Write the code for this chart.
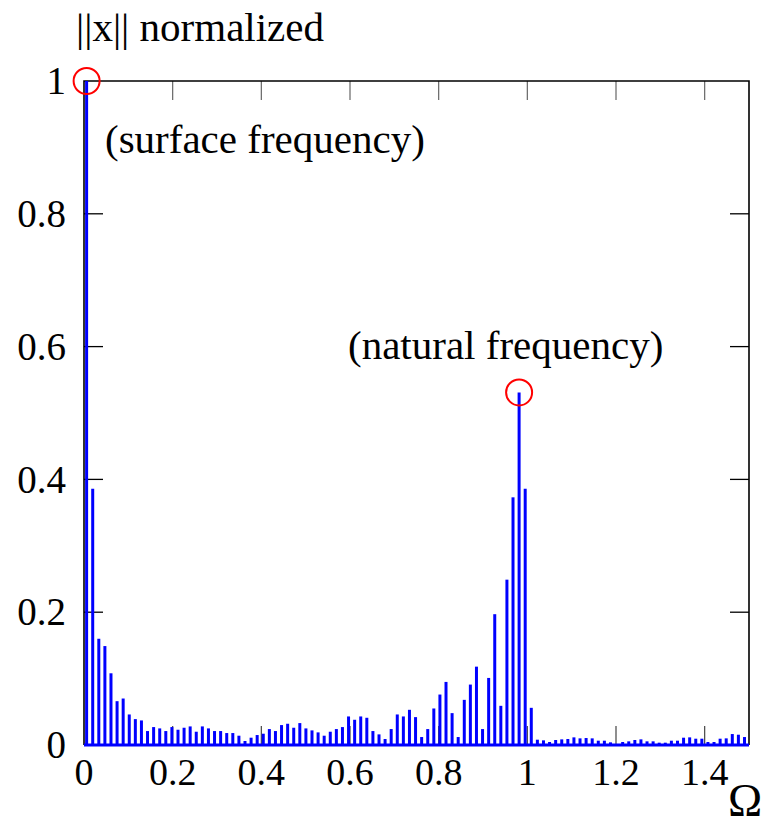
<!DOCTYPE html>
<html>
<head>
<meta charset="utf-8">
<script src="https://cdn.jsdelivr.net/npm/d3@7"></script>
<style>
  html, body { margin: 0; padding: 0; background: #fff; }
  svg { display: block; }
</style>
</head>
<body>
<div id="chart"></div>
<script>
// chart size and plot frame
const WIDTH = 768;
const HEIGHT = 828;
const MARGIN = { top: 81, right: 19, bottom: 83, left: 84 };

const BIN_START = 0.0059;
const BIN_STEP = 0.01374;

// normalized amplitude of each bin
const amplitudes = [
  1.0, 0.386, 0.160, 0.149, 0.108, 0.066, 0.070, 0.046, 0.039, 0.037,
  0.021, 0.027, 0.025, 0.021, 0.027, 0.023, 0.026, 0.028, 0.020, 0.028,
  0.025, 0.021, 0.021, 0.018, 0.018, 0.014, 0.006, 0.011, 0.015, 0.017,
  0.024, 0.021, 0.030, 0.032, 0.026, 0.033, 0.025, 0.022, 0.019, 0.014,
  0.020, 0.024, 0.027, 0.043, 0.038, 0.043, 0.041, 0.021, 0.016, 0.009,
  0.024, 0.046, 0.043, 0.053, 0.042, 0.012, 0.024, 0.055, 0.076, 0.095,
  0.048, 0.012, 0.068, 0.091, 0.118, 0.024, 0.101, 0.197, 0.059, 0.249,
  0.373, 0.531, 0.386, 0.056, 0.008, 0.007, 0.0045, 0.0075, 0.0085, 0.009,
  0.0115, 0.010, 0.0105, 0.010, 0.0065, 0.0065, 0.004, 0.001, 0.0045, 0.0055,
  0.0075, 0.0085, 0.0055, 0.0055, 0.0035, 0.0035, 0.0065, 0.0065, 0.011, 0.0115,
  0.0095, 0.0095, 0.0045, 0.0045, 0.0095, 0.010, 0.0165, 0.0155, 0.012
];

// highlighted peaks (bin index) and their captions
const peakBins = [0, 71];
const peakLabels = ["(surface frequency)", "(natural frequency)"];

// tick values and labels
const xTicks = [0, 0.2, 0.4, 0.6, 0.8, 1, 1.2, 1.4];
const yTicks = [0, 0.2, 0.4, 0.6, 0.8, 1];

const FONT = "'Liberation Serif', 'Times New Roman', serif";

const data = amplitudes.map((a, i) => ({
  omega: BIN_START + i * BIN_STEP,
  value: a,
}));

const svg = d3
  .select("#chart")
  .append("svg")
  .attr("width", WIDTH)
  .attr("height", HEIGHT);

const x = d3
  .scaleLinear()
  .domain([0, 1.5])
  .range([MARGIN.left, WIDTH - MARGIN.right]);
const y = d3
  .scaleLinear()
  .domain([0, 1])
  .range([HEIGHT - MARGIN.bottom, MARGIN.top]);

const x0 = x.range()[0], x1 = x.range()[1];
const y0 = y.range()[0], y1 = y.range()[1];

// inward ticks on all four sides
const TICK = 19;
const ticks = svg.append("g").attr("class", "ticks");
ticks
  .selectAll("line.top")
  .data(xTicks.slice(1))
  .join("line")
  .attr("x1", (d) => x(d))
  .attr("x2", (d) => x(d))
  .attr("y1", y1)
  .attr("y2", y1 + TICK)
  .attr("stroke", "#666")
  .attr("stroke-width", 1.2);
ticks
  .selectAll("line.bottom")
  .data(xTicks.slice(1))
  .join("line")
  .attr("x1", (d) => x(d))
  .attr("x2", (d) => x(d))
  .attr("y1", y0)
  .attr("y2", y0 - TICK)
  .attr("stroke", "#444")
  .attr("stroke-width", 1.2);
ticks
  .selectAll("line.left")
  .data(yTicks.slice(1, -1))
  .join("line")
  .attr("x1", x0)
  .attr("x2", x0 + TICK)
  .attr("y1", (d) => y(d))
  .attr("y2", (d) => y(d))
  .attr("stroke", "#000")
  .attr("stroke-width", 1.3);
ticks
  .selectAll("line.right")
  .data(yTicks.slice(1, -1))
  .join("line")
  .attr("x1", x1)
  .attr("x2", x1 - TICK)
  .attr("y1", (d) => y(d))
  .attr("y2", (d) => y(d))
  .attr("stroke", "#000")
  .attr("stroke-width", 1.3);

// frame
svg
  .append("path")
  .attr("d", `M${x0},${y0}V${y1}H${x1}V${y0}`)
  .attr("fill", "none")
  .attr("stroke", "#000")
  .attr("stroke-width", 1.6);

// stems + baseline
svg
  .append("g")
  .attr("class", "stems")
  .selectAll("line")
  .data(data)
  .join("line")
  .attr("x1", (d) => x(d.omega))
  .attr("x2", (d) => x(d.omega))
  .attr("y1", y(0))
  .attr("y2", (d) => y(d.value))
  .attr("stroke", "#0000ff")
  .attr("stroke-width", 3);
svg
  .append("line")
  .attr("x1", x0)
  .attr("x2", x1)
  .attr("y1", y(0))
  .attr("y2", y(0))
  .attr("stroke", "#0000ff")
  .attr("stroke-width", 3);

// red circles on the two peaks
svg
  .append("g")
  .selectAll("circle")
  .data(peakBins.map((i) => data[i]))
  .join("circle")
  .attr("cx", (d) => x(d.omega))
  .attr("cy", (d) => y(d.value))
  .attr("r", 13)
  .attr("fill", "none")
  .attr("stroke", "#ff0000")
  .attr("stroke-width", 2);

// tick labels
svg
  .append("g")
  .selectAll("text")
  .data(yTicks)
  .join("text")
  .attr("x", 66)
  .attr("y", (d) => y(d))
  .attr("dy", "0.34em")
  .attr("text-anchor", "end")
  .attr("font-family", FONT)
  .attr("font-size", 39)
  .text((d) => d3.format("")(d));
svg
  .append("g")
  .selectAll("text")
  .data(xTicks)
  .join("text")
  .attr("x", (d) => x(d))
  .attr("y", 785)
  .attr("text-anchor", "middle")
  .attr("font-family", FONT)
  .attr("font-size", 38)
  .text((d) => d3.format("")(d));

// axis titles
svg
  .append("text")
  .attr("x", 76)
  .attr("y", 41)
  .attr("font-family", FONT)
  .attr("font-size", 41)
  .text("||x|| normalized");
svg
  .append("text")
  .attr("x", 745)
  .attr("y", 816)
  .attr("text-anchor", "middle")
  .attr("font-family", FONT)
  .attr("font-size", 46)
  .text("Ω");

// peak captions
const captionPos = [
  { x: 105, y: 153 },
  { x: 348, y: 359 },
];
svg
  .append("g")
  .selectAll("text")
  .data(peakLabels)
  .join("text")
  .attr("x", (d, i) => captionPos[i].x)
  .attr("y", (d, i) => captionPos[i].y)
  .attr("font-family", FONT)
  .attr("font-size", 41)
  .text((d) => d);
</script>
</body>
</html>
